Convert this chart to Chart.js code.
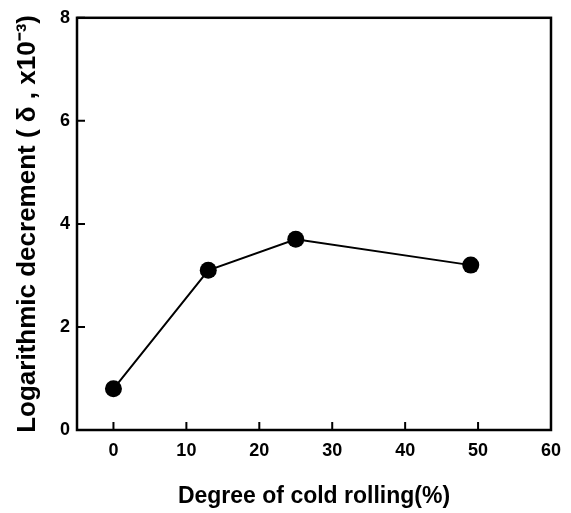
<!DOCTYPE html>
<html>
<head>
<meta charset="utf-8">
<script src="https://cdn.jsdelivr.net/npm/chart.js@4/dist/chart.umd.min.js"></script>
<style>
  html, body { margin: 0; padding: 0; background: #fff; }
  #wrap { width: 571px; height: 513px; position: relative; }
</style>
</head>
<body>
<div id="wrap"><canvas id="chart"></canvas></div>
<script>
// data
const rolling = [0, 13, 25, 49];
const decrement = [0.8, 3.1, 3.7, 3.2];

const xTitle = 'Degree of cold rolling(%)';
const yTitle = 'Logarithmic decrement ( \u03b4 , x10\u207b\u00b3)';

const FONT = "'Liberation Sans', Arial, sans-serif";

// frame around the plot + inward tick marks
const framePlugin = {
    id: 'frame',
    afterDraw(chart) {
        const { ctx, chartArea: a, scales } = chart;
        ctx.save();
        ctx.strokeStyle = '#000';
        ctx.lineWidth = 2.5;
        ctx.strokeRect(a.left, a.top, a.right - a.left, a.bottom - a.top);
        ctx.lineWidth = 2;
        ctx.beginPath();
        scales.x.ticks.forEach(t => {
            const px = scales.x.getPixelForValue(t.value);
            ctx.moveTo(px, a.bottom);
            ctx.lineTo(px, a.bottom - 8);
        });
        scales.y.ticks.forEach(t => {
            const py = scales.y.getPixelForValue(t.value);
            ctx.moveTo(a.left, py);
            ctx.lineTo(a.left + 8, py);
        });
        ctx.stroke();
        ctx.restore();
    }
};

new Chart(document.getElementById('chart'), {
    type: 'scatter',
    data: {
        datasets: [{
            data: rolling.map((x, i) => ({ x: x, y: decrement[i] })),
            showLine: true,
            borderColor: '#000',
            borderWidth: 2,
            backgroundColor: '#000',
            pointRadius: 8.5,
            pointHoverRadius: 8.5,
            pointBorderWidth: 0
        }]
    },
    options: {
        responsive: true,
        maintainAspectRatio: false,
        animation: false,
        layout: { padding: { top: 16, right: 19, left: 0, bottom: 0 } },
        plugins: { legend: { display: false }, tooltip: { enabled: false } },
        scales: {
            x: {
                type: 'linear',
                min: -5,
                max: 60,
                grid: { display: false, drawTicks: false },
                border: { display: false },
                ticks: {
                    stepSize: 10,
                    includeBounds: false,
                    padding: 10,
                    color: '#000',
                    font: { family: FONT, size: 18, weight: 'bold' }
                },
                title: {
                    display: true,
                    text: xTitle,
                    color: '#000',
                    padding: { top: 0, bottom: 3 },
                    font: { family: FONT, size: 23, weight: 'bold' }
                },
                afterFit: (s) => { s.height = 83; }
            },
            y: {
                min: 0,
                max: 8,
                grid: { display: false, drawTicks: false },
                border: { display: false },
                ticks: {
                    stepSize: 2,
                    padding: 7,
                    color: '#000',
                    font: { family: FONT, size: 18, weight: 'bold' }
                },
                title: {
                    display: true,
                    text: yTitle,
                    color: '#000',
                    padding: { top: 12, bottom: 0 },
                    font: { family: FONT, size: 26, weight: 'bold' }
                },
                afterFit: (s) => { s.width = 77; }
            }
        }
    },
    plugins: [framePlugin]
});
</script>
</body>
</html>
